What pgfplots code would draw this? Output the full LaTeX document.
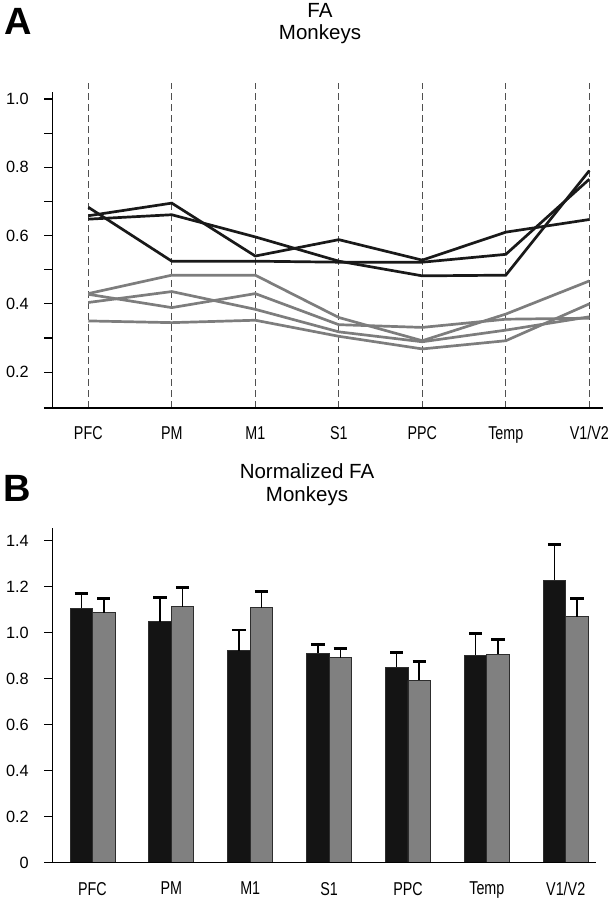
\documentclass[border=0pt]{standalone}
\usepackage{fontspec}
\setmainfont{Liberation Sans}
\newfontfamily\tickfont[FakeStretch=0.77]{Liberation Sans}
\usepackage{pgfplots}
\pgfplotsset{compat=1.18}
\definecolor{barblack}{RGB}{20,20,20}
\definecolor{bargray}{RGB}{128,128,128}
\definecolor{edgecol}{RGB}{45,45,45}
\definecolor{linegray}{RGB}{125,125,125}
\definecolor{lineblack}{RGB}{25,25,25}
\definecolor{gridcol}{RGB}{80,80,80}
\begin{document}
\begin{tikzpicture}
\useasboundingbox (0,0) rectangle (611bp,900bp);
\pgfplotsset{
  common/.style={
    scale only axis, clip=false,
    axis lines=left,
    axis line style={draw=none},
    tick align=outside,
    major tick length=8.4bp, minor tick length=8.4bp,
    y tick style={black, line width=1.1bp},
    x tick style={draw=none},
    xticklabel style={font=\tickfont\fontsize{18.6bp}{20bp}\selectfont, yshift=-6.5bp},
    yticklabel style={font=\fontsize{16.3bp}{18bp}\selectfont, xshift=-12bp},
    /pgf/number format/assume math mode=true,
    xtick={0,1,2,3,4,5,6},
    xticklabels={PFC,PM,M1,S1,PPC,Temp,V1/V2},
  }
}
% ---------- Panel A ----------
\begin{axis}[common,
  at={(52.7bp,492bp)}, anchor=south west,
  width=550.3bp, height=325.4bp,
  xmin=-0.426, xmax=6.164, ymin=0.095, ymax=1.048,
  ytick={0.2,0.4,0.6,0.8,1.0},
  yticklabels={0.2,0.4,0.6,0.8,1.0},
  minor ytick={0.3,0.5,0.7,0.9},
  xmajorgrids,
  major x grid style={dash pattern=on 7bp off 4bp, line width=1bp, color=gridcol},
]
\addplot[linegray, line width=2.7bp] coordinates {(0,0.430) (1,0.484) (2,0.484) (3,0.360) (4,0.292) (5,0.370) (6,0.467)};
\addplot[linegray, line width=2.7bp] coordinates {(0,0.404) (1,0.436) (2,0.384) (3,0.318) (4,0.289) (5,0.323) (6,0.362)};
\addplot[linegray, line width=2.7bp] coordinates {(0,0.428) (1,0.389) (2,0.430) (3,0.339) (4,0.331) (5,0.355) (6,0.358)};
\addplot[linegray, line width=2.7bp] coordinates {(0,0.350) (1,0.345) (2,0.352) (3,0.305) (4,0.268) (5,0.292) (6,0.400)};
\addplot[lineblack, line width=2.7bp] coordinates {(0,0.658) (1,0.695) (2,0.540) (3,0.588) (4,0.528) (5,0.610) (6,0.647)};
\addplot[lineblack, line width=2.7bp] coordinates {(0,0.648) (1,0.661) (2,0.596) (3,0.525) (4,0.482) (5,0.484) (6,0.790)};
\addplot[lineblack, line width=2.7bp] coordinates {(0,0.683) (1,0.525) (2,0.525) (3,0.522) (4,0.522) (5,0.545) (6,0.765)};
\draw[black, line width=1.2bp] (axis cs:-0.426,0.095) -- (axis cs:-0.426,1.021);
\draw[black, line width=1.2bp] (axis cs:-0.5305,0.095) -- (axis cs:6.164,0.095);
\end{axis}
% ---------- Panel B ----------
\begin{axis}[common,
  at={(52.7bp,37.3bp)}, anchor=south west,
  width=543.3bp, height=334.4bp,
  xmin=-0.5047, xmax=6.384, ymin=0, ymax=1.454,
  ytick={0,0.2,0.4,0.6,0.8,1.0,1.2,1.4},
  yticklabels={0,0.2,0.4,0.6,0.8,1.0,1.2,1.4},
  ybar, bar width=22.5bp,
  xticklabel style={yshift=-1bp},
]
\addplot[fill=barblack, draw=edgecol, line width=0.8bp, bar shift=-11.25bp,
  error bars/.cd, y dir=plus, y explicit,
  error bar style={line width=1.5bp, black, solid},
  error mark options={rotate=90, mark size=6.7bp, line width=2.8bp, black}]
  coordinates {(0,1.106) +- (0,0.065) (1,1.048) +- (0,0.104) (2,0.922) +- (0,0.090)
               (3,0.910) +- (0,0.037) (4,0.850) +- (0,0.063) (5,0.903) +- (0,0.094)
               (6,1.229) +- (0,0.155)};
\addplot[fill=bargray, draw=edgecol, line width=0.8bp, bar shift=11.25bp,
  error bars/.cd, y dir=plus, y explicit,
  error bar style={line width=1.5bp, black, solid},
  error mark options={rotate=90, mark size=6.7bp, line width=2.8bp, black}]
  coordinates {(0,1.087) +- (0,0.063) (1,1.113) +- (0,0.084) (2,1.109) +- (0,0.071)
               (3,0.891) +- (0,0.041) (4,0.793) +- (0,0.083) (5,0.906) +- (0,0.065)
               (6,1.070) +- (0,0.080)};
\draw[black, line width=1.2bp] (axis cs:-0.5047,0) -- (axis cs:-0.5047,1.454);
\draw[black, line width=1.2bp] (axis cs:-0.611,0) -- (axis cs:6.384,0);
\end{axis}
% ---------- Titles ----------
\node[anchor=base, inner sep=0, font=\fontsize{20.5bp}{22bp}\selectfont] at (320bp,882.3bp) {FA};
\node[anchor=base, inner sep=0, font=\fontsize{20.5bp}{22bp}\selectfont] at (320bp,860.3bp) {Monkeys};
\node[anchor=base west, inner sep=0, font=\bfseries\fontsize{38bp}{38bp}\selectfont] at (4bp,865bp) {A};
\node[anchor=base, inner sep=0, font=\fontsize{20.5bp}{22bp}\selectfont] at (307bp,421.3bp) {Normalized FA};
\node[anchor=base, inner sep=0, font=\fontsize{20.5bp}{22bp}\selectfont] at (307bp,398.3bp) {Monkeys};
\node[anchor=base west, inner sep=0, font=\bfseries\fontsize{38bp}{38bp}\selectfont] at (3bp,398.3bp) {B};
\end{tikzpicture}
\end{document}
